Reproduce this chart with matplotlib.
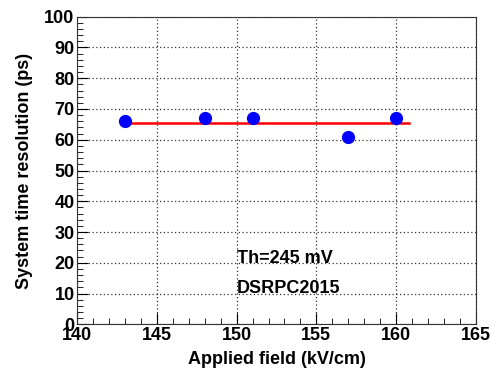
import matplotlib
matplotlib.use("Agg")
import matplotlib.pyplot as plt
from matplotlib.ticker import MultipleLocator

field = [143, 148, 151, 157, 160]
resolution = [66, 67, 67, 61, 67]
fit_x = [143, 160.8]
fit_y = [65.5, 65.5]

plt.rcParams['font.family'] = ['Liberation Sans', 'DejaVu Sans']
plt.rcParams['font.weight'] = 'bold'

fig = plt.figure(figsize=(4.92, 3.72), dpi=100)
ax = fig.add_axes([77.3 / 492, 1 - 324.3 / 372, (475.7 - 77.3) / 492, (324.3 - 16.7) / 372])

ax.plot(fit_x, fit_y, color='red', lw=1.8, zorder=3)
ax.plot(field, resolution, 'o', color='blue', ms=8.5, zorder=4)

ax.set_xlim(140, 165)
ax.set_ylim(0, 100)
ax.xaxis.set_major_locator(MultipleLocator(5))
ax.xaxis.set_minor_locator(MultipleLocator(1))
ax.yaxis.set_major_locator(MultipleLocator(10))
ax.yaxis.set_minor_locator(MultipleLocator(2))
ax.tick_params(which='both', direction='in', labelsize=13, top=False, right=False)
ax.tick_params(which='major', length=8)
ax.tick_params(which='minor', length=4)
ax.tick_params(axis='x', pad=2)
ax.tick_params(axis='y', pad=2)
for lab in ax.get_xticklabels() + ax.get_yticklabels():
    lab.set_fontweight('bold')
ax.grid(True, which='major', linestyle=(0, (1, 2)), color='#333333', lw=0.9)

ax.set_xlabel('Applied field (kV/cm)', fontsize=13, fontweight='bold', labelpad=5)
ax.set_ylabel('System time resolution (ps)', fontsize=13, fontweight='bold', labelpad=8)

ax.text(150, 21.5, 'Th=245 mV', fontsize=13, fontweight='bold', va='center')
ax.text(150, 11.8, 'DSRPC2015', fontsize=13, fontweight='bold', va='center')

for s in ax.spines.values():
    s.set_color('#333333')

fig.savefig('out.png', dpi=100)
